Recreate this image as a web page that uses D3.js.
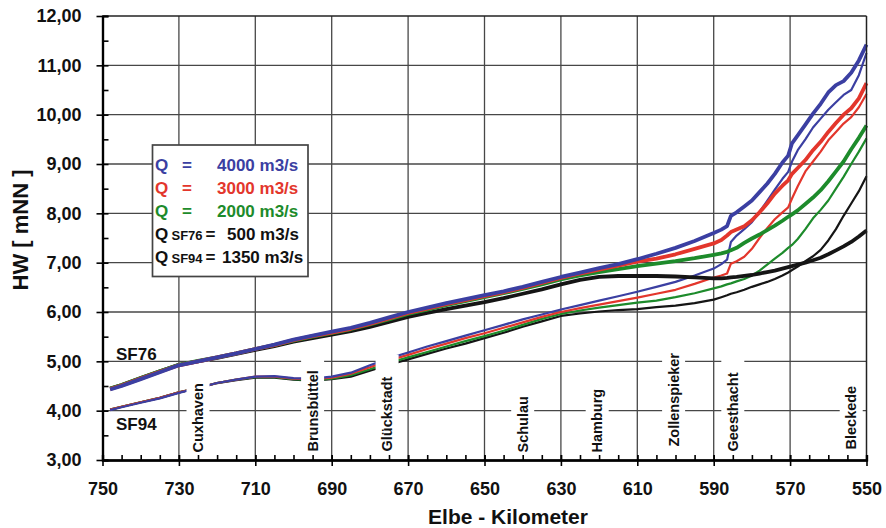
<!DOCTYPE html>
<html>
<head>
<meta charset="utf-8">
<script src="https://cdn.jsdelivr.net/npm/d3@7/dist/d3.min.js"></script>
<style>
  html, body { margin: 0; padding: 0; background: #fff; }
  svg { display: block; font-family: "Liberation Sans", Arial, Helvetica, sans-serif; font-weight: bold; }
</style>
</head>
<body>
<svg id="chart" width="886" height="528"></svg>
<script>
// Elbe river kilometre of every sample point (downstream on the left)
const km = [748, 745, 740, 735, 730, 725, 720, 715, 710, 705, 700, 695, 690, 685, 680, 675, 670, 665, 660, 655,
  650, 645, 640, 635, 630, 625, 620, 615, 610, 605, 600, 595, 590, 588, 586.5, 585.5, 584, 582, 580, 578,
  576, 574, 572, 570.5, 569.5, 568, 566, 564, 562, 560, 558, 556, 554, 552, 550];

// High water levels HW [mNN], state SF76
const sf76Q4000 = [4.43, 4.50, 4.64, 4.78, 4.92, 5.00, 5.08, 5.16, 5.25, 5.34, 5.44, 5.52, 5.60, 5.68, 5.78, 5.89, 6.00, 6.09, 6.18, 6.26,
  6.34, 6.42, 6.51, 6.61, 6.71, 6.80, 6.89, 6.97, 7.07, 7.18, 7.30, 7.44, 7.60, 7.67, 7.74, 7.95, 8.02, 8.14, 8.26, 8.43,
  8.60, 8.80, 9.03, 9.17, 9.42, 9.58, 9.80, 10.02, 10.22, 10.45, 10.60, 10.68, 10.85, 11.10, 11.42];
const sf76Q3000 = [4.44, 4.51, 4.65, 4.79, 4.92, 5.00, 5.08, 5.16, 5.25, 5.33, 5.43, 5.51, 5.58, 5.66, 5.76, 5.87, 5.98, 6.07, 6.16, 6.24,
  6.32, 6.40, 6.49, 6.59, 6.69, 6.78, 6.86, 6.94, 7.02, 7.08, 7.17, 7.28, 7.39, 7.46, 7.55, 7.62, 7.67, 7.74, 7.86, 8.02,
  8.20, 8.40, 8.56, 8.67, 8.80, 8.92, 9.08, 9.28, 9.45, 9.65, 9.83, 10.00, 10.13, 10.33, 10.64];
const sf76Q2000 = [4.45, 4.52, 4.66, 4.80, 4.93, 5.01, 5.08, 5.16, 5.25, 5.33, 5.42, 5.50, 5.57, 5.65, 5.75, 5.85, 5.96, 6.05, 6.14, 6.22,
  6.30, 6.38, 6.47, 6.56, 6.66, 6.74, 6.81, 6.87, 6.93, 6.98, 7.03, 7.09, 7.16, 7.19, 7.22, 7.25, 7.30, 7.40, 7.49, 7.57,
  7.66, 7.75, 7.85, 7.93, 7.98, 8.06, 8.19, 8.32, 8.47, 8.65, 8.85, 9.05, 9.30, 9.53, 9.78];
const sf76Q500 = [4.45, 4.52, 4.66, 4.80, 4.93, 5.00, 5.07, 5.15, 5.23, 5.31, 5.40, 5.47, 5.54, 5.61, 5.70, 5.80, 5.90, 5.98, 6.06, 6.13,
  6.20, 6.28, 6.37, 6.46, 6.56, 6.65, 6.71, 6.73, 6.73, 6.73, 6.72, 6.70, 6.68, 6.68, 6.69, 6.70, 6.71, 6.73, 6.75, 6.78,
  6.81, 6.84, 6.88, 6.91, 6.93, 6.96, 7.00, 7.05, 7.10, 7.17, 7.25, 7.33, 7.42, 7.53, 7.65];

// High water levels HW [mNN], state SF94
const sf94Q4000 = [4.01, 4.07, 4.16, 4.25, 4.36, 4.46, 4.56, 4.63, 4.69, 4.70, 4.66, 4.65, 4.69, 4.77, 4.92, 5.06, 5.18, 5.30, 5.41, 5.52,
  5.63, 5.74, 5.85, 5.95, 6.05, 6.14, 6.23, 6.32, 6.41, 6.51, 6.61, 6.74, 6.88, 6.97, 7.06, 7.42, 7.55, 7.68, 7.82, 8.03,
  8.25, 8.48, 8.70, 8.84, 9.05, 9.28, 9.50, 9.74, 9.92, 10.10, 10.25, 10.40, 10.50, 10.80, 11.25];
const sf94Q3000 = [4.02, 4.08, 4.17, 4.26, 4.37, 4.46, 4.56, 4.63, 4.69, 4.69, 4.65, 4.64, 4.67, 4.75, 4.88, 5.02, 5.13, 5.25, 5.36, 5.47,
  5.57, 5.68, 5.79, 5.90, 6.00, 6.08, 6.15, 6.22, 6.29, 6.37, 6.45, 6.57, 6.70, 6.74, 6.78, 6.98, 7.03, 7.12, 7.28, 7.50,
  7.70, 7.88, 8.02, 8.12, 8.30, 8.55, 8.85, 9.05, 9.25, 9.48, 9.65, 9.82, 9.95, 10.15, 10.42];
const sf94Q2000 = [4.02, 4.08, 4.17, 4.26, 4.37, 4.46, 4.56, 4.63, 4.68, 4.68, 4.64, 4.62, 4.65, 4.72, 4.84, 4.97, 5.08, 5.19, 5.30, 5.41,
  5.51, 5.62, 5.74, 5.86, 5.96, 6.03, 6.09, 6.14, 6.19, 6.23, 6.30, 6.38, 6.48, 6.52, 6.56, 6.58, 6.62, 6.67, 6.74, 6.84,
  6.96, 7.08, 7.20, 7.30, 7.36, 7.48, 7.68, 7.90, 8.07, 8.26, 8.50, 8.74, 9.00, 9.25, 9.52];
const sf94Q1350 = [4.02, 4.08, 4.17, 4.26, 4.37, 4.46, 4.56, 4.62, 4.67, 4.67, 4.63, 4.61, 4.64, 4.69, 4.81, 4.93, 5.04, 5.15, 5.26, 5.36,
  5.47, 5.58, 5.70, 5.81, 5.92, 5.97, 6.01, 6.04, 6.06, 6.10, 6.13, 6.18, 6.25, 6.30, 6.34, 6.37, 6.40, 6.45, 6.51, 6.56,
  6.61, 6.67, 6.74, 6.80, 6.85, 6.92, 7.03, 7.13, 7.26, 7.45, 7.68, 7.95, 8.20, 8.45, 8.75];

// Gauging stations along the river
const stationNames = ["Cuxhaven", "Brunsbüttel", "Glückstadt", "Schulau", "Hamburg", "Zollenspieker", "Geesthacht", "Bleckede"];
const stationKm = [725, 695, 675.5, 640, 620.5, 600.5, 585, 554];

// Axis ticks
const xMajorTicks = d3.range(750, 549, -20);
const xMinorTicks = d3.range(750, 549, -5);
const yMajorTicks = d3.range(3, 12.01, 1);
const yMinorTicks = d3.range(3, 12.01, 0.5);

// Legend lines
const legendLabels = ["Q", "Q", "Q", "Q", "Q"];
const legendSubs = ["", "", "", "SF76", "SF94"];
const legendValues = ["4000 m3/s", "3000 m3/s", "2000 m3/s", "500 m3/s", "1350 m3/s"];

// ---- styling / layout ----
const COLORS = { q4000: "#3b3fa2", q3000: "#e3362c", q2000: "#1d8b2b", qLow: "#151515" };
const margin = { left: 102.5, right: 866.5, top: 16, bottom: 460 };
const labelLift = [0, 1, 1, 0, 0, 6, 1, 3];   // small per-label vertical nudges
const legendValueX = [217, 217, 217, 227, 222];

const svg = d3.select("#chart");
const x = d3.scaleLinear().domain([750, 550]).range([margin.left, margin.right]);
const y = d3.scaleLinear().domain([3, 12]).range([margin.bottom, margin.top]);
const nf = d3.formatLocale({ decimal: ",", thousands: ".", grouping: [3], currency: ["", ""] }).format(".2f");

// grid
const grid = svg.append("g").attr("stroke", "#474747").attr("stroke-width", 1.3);
grid.selectAll("line.v").data(xMajorTicks.filter(d => d < 750 && d > 550)).join("line")
  .attr("x1", d => x(d)).attr("x2", d => x(d)).attr("y1", y(3)).attr("y2", y(12));
grid.selectAll("line.h").data(yMajorTicks.filter(d => d > 3 && d < 12)).join("line")
  .attr("x1", x(750)).attr("x2", x(550)).attr("y1", d => y(d)).attr("y2", d => y(d));

const line = d3.line().x((d, i) => x(km[i])).y(d => y(d));

function drawSeries(g, series, width) {
  g.selectAll("path").data(series).join("path")
    .attr("d", d => line(d.values))
    .attr("fill", "none")
    .attr("stroke", d => d.color)
    .attr("stroke-width", width)
    .attr("stroke-linejoin", "round")
    .attr("stroke-linecap", "butt");
}

// SF94 (thin lines)
drawSeries(svg.append("g"), [
  { values: sf94Q1350, color: COLORS.qLow },
  { values: sf94Q2000, color: COLORS.q2000 },
  { values: sf94Q3000, color: COLORS.q3000 },
  { values: sf94Q4000, color: COLORS.q4000 }
], 2.2);

// station labels on white boxes
const labelFont = 14.5;
const stations = svg.append("g");
stationNames.forEach((name, i) => {
  const cx = x(stationKm[i]);
  const base = 452.5 - labelLift[i];
  const t = stations.append("text")
    .attr("transform", `translate(${cx + 5.2},${base}) rotate(-90)`)
    .attr("font-size", labelFont)
    .attr("fill", "#111")
    .text(name);
  const len = t.node().getComputedTextLength();
  stations.insert("rect", "text")
    .attr("x", cx - 11.5).attr("width", 23)
    .attr("y", base - len - 22).attr("height", margin.bottom - 0.5 - (base - len - 22))
    .attr("fill", "#fff");
});

// SF76 (thick lines)
drawSeries(svg.append("g"), [
  { values: sf76Q500, color: COLORS.qLow },
  { values: sf76Q2000, color: COLORS.q2000 },
  { values: sf76Q3000, color: COLORS.q3000 },
  { values: sf76Q4000, color: COLORS.q4000 }
], 3.8);

// frame
svg.append("line").attr("x1", x(750)).attr("x2", x(550)).attr("y1", y(12)).attr("y2", y(12))
  .attr("stroke", "#222").attr("stroke-width", 1.5);
svg.append("line").attr("x1", x(550)).attr("x2", x(550)).attr("y1", y(12)).attr("y2", y(3))
  .attr("stroke", "#222").attr("stroke-width", 1.5);

// x axis
const xAxisG = svg.append("g").attr("transform", `translate(0,${margin.bottom})`);
xAxisG.call(d3.axisBottom(x).tickValues(xMinorTicks).tickSize(-5).tickFormat(""));
xAxisG.append("g").call(d3.axisBottom(x).tickValues(xMajorTicks).tickSizeInner(6).tickSizeOuter(0).tickPadding(16).tickFormat(d3.format("d")));
xAxisG.append("g").call(d3.axisBottom(x).tickValues(xMajorTicks).tickSize(-5).tickFormat(""));
xAxisG.selectAll("path.domain").attr("stroke", "#000").attr("stroke-width", 2.2);
xAxisG.selectAll(".tick line").attr("stroke", "#000").attr("stroke-width", 1.6);
xAxisG.selectAll("text").attr("font-size", 18).attr("font-family", null).attr("fill", "#111");

// y axis
const yAxisG = svg.append("g").attr("transform", `translate(${margin.left},0)`);
yAxisG.call(d3.axisLeft(y).tickValues(yMinorTicks).tickSize(-6).tickFormat(""));
yAxisG.append("g").call(d3.axisLeft(y).tickValues(yMajorTicks).tickSizeInner(6).tickSizeOuter(0).tickPadding(15).tickFormat(d => nf(d)));
yAxisG.selectAll("path.domain").attr("stroke", "#000").attr("stroke-width", 2.2);
yAxisG.selectAll(".tick line").attr("stroke", "#000").attr("stroke-width", 1.6);
yAxisG.selectAll("text").attr("font-size", 18).attr("font-family", null).attr("fill", "#111");

// axis titles
svg.append("text").attr("x", 508).attr("y", 524).attr("text-anchor", "middle")
  .attr("font-size", 21).attr("fill", "#111").text("Elbe - Kilometer");
svg.append("text").attr("transform", "translate(28,230) rotate(-90)").attr("text-anchor", "middle")
  .attr("font-size", 22).attr("fill", "#111").text("HW [ mNN ]");

// state labels
svg.append("text").attr("x", 116).attr("y", 360).attr("font-size", 17).attr("fill", "#111").text("SF76");
svg.append("text").attr("x", 116).attr("y", 430).attr("font-size", 17).attr("fill", "#111").text("SF94");

// legend
const legend = svg.append("g");
legend.append("rect").attr("x", 152.5).attr("y", 145).attr("width", 155.5).attr("height", 131.5)
  .attr("fill", "#fff").attr("stroke", "#444").attr("stroke-width", 1.7);
const legendColors = [COLORS.q4000, COLORS.q3000, COLORS.q2000, "#111", "#111"];
legendLabels.forEach((q, i) => {
  const by = 171 + i * 23;
  const row = legend.append("g").attr("fill", legendColors[i]);
  row.append("text").attr("x", 155).attr("y", by).attr("font-size", 17).text(q);
  if (legendSubs[i]) {
    row.append("text").attr("x", 171.5).attr("y", by).attr("font-size", 13).text(legendSubs[i]);
    row.append("text").attr("x", 205.5).attr("y", by).attr("font-size", 17).text("=");
  } else {
    row.append("text").attr("x", 182).attr("y", by).attr("font-size", 17).text("=");
  }
  row.append("text").attr("x", legendValueX[i]).attr("y", by).attr("font-size", 17).text(legendValues[i]);
});
</script>
</body>
</html>
